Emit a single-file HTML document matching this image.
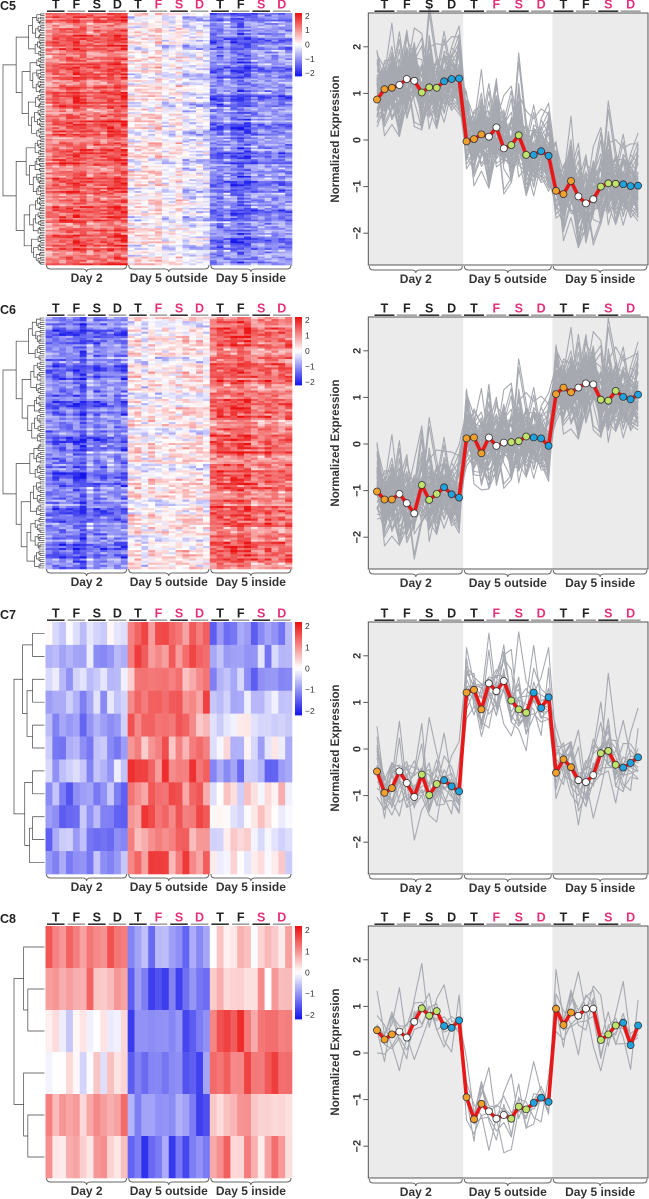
<!DOCTYPE html>
<html><head><meta charset="utf-8">
<style>
html,body{margin:0;padding:0;background:#fff;}
svg{display:block;font-family:"Liberation Sans",Arial,sans-serif;}
</style></head>
<body>
<svg id="fig" width="649" height="1199" viewBox="0 0 649 1199" xmlns="http://www.w3.org/2000/svg"></svg>
<script>
// ---- data ----
const clusterNames = ['C5','C6','C7','C8'];
const sectionLabels = ['Day 2','Day 5 outside','Day 5 inside'];
const headerLetters = ['T','F','S','D','T','F','S','D','T','F','S','D'];
const headerPink = [0,0,0,0,0,1,1,1,0,0,1,1];
const yTicks = [2,1,0,-1,-2];
const yTickLabels = ['2','1','0','\u22121','\u22122'];
const cbTicks = [2,1,0,-1,-2];
const cbTickLabels = ['2','1','0','\u22121','\u22122'];
const c5Means = [0.87,1.09,1.12,1.18,1.31,1.27,1.02,1.13,1.12,1.26,1.31,1.32,
  -0.03,0.02,0.12,0.07,0.27,-0.18,-0.11,0.1,-0.32,-0.32,-0.24,-0.34,
  -1.09,-1.16,-0.88,-1.21,-1.36,-1.27,-1.0,-0.93,-0.94,-0.95,-0.99,-0.98];
const c6Means = [-1.02,-1.19,-1.19,-1.07,-1.27,-1.49,-0.88,-1.2,-1.07,-0.93,-1.08,-1.15,
  0.12,0.14,-0.2,0.14,-0.04,0.03,0.04,0.06,0.16,0.14,0.12,-0.04,
  1.07,1.21,1.11,1.21,1.3,1.28,0.95,0.93,1.14,1.01,0.96,1.06];
const c7Means = [-0.48,-0.94,-0.84,-0.48,-0.73,-1.03,-0.55,-0.99,-0.75,-0.67,-0.8,-0.91,
  1.21,1.27,0.85,1.41,1.24,1.46,1.04,0.85,0.78,1.21,0.88,1.11,
  -0.51,-0.22,-0.39,-0.67,-0.71,-0.56,-0.09,-0.04,-0.34,-0.4,-0.3,-0.18];
const c8Means = [0.49,0.29,0.4,0.46,0.33,0.67,0.96,0.8,0.9,0.58,0.54,0.7,
  -0.95,-1.42,-1.09,-1.25,-1.41,-1.33,-1.41,-1.15,-1.21,-1.07,-0.96,-1.05,
  0.95,0.6,0.87,0.8,0.95,0.95,0.28,0.4,0.59,0.65,0.17,0.59];
// heatmap row levels per section (day2, outside, inside)
const c7RowDay2 = [-0.3,-0.8,-0.6,-0.7,-1.0,-1.0,-0.6,-1.1,-1.2,-1.0,-1.0];
const c7RowOut  = [1.3,1.2,1.1,1.3,1.0,1.0,1.4,1.2,1.3,1.2,1.3];
const c7RowIn   = [-1.2,-0.8,-1.0,-0.6,-0.2,-0.3,-1.0,0.1,0.0,-0.1,0.0];
const c8RowDay2 = [1.2,0.8,-0.1,0.1,0.8,0.5];
const c8RowOut  = [-1.0,-1.5,-1.2,-1.3,-1.3,-1.4];
const c8RowIn   = [0.3,0.5,1.3,1.3,0.6,0.8];
const cellTexture = [0.3,-0.5,0.1,0.6,-0.2,-0.4,0.45,0,-0.6,0.25,0.5,-0.15,-0.35,0.2,0.55,-0.55,0.05,0.35,-0.25,0.4,-0.45,0.15,-0.05,0.6,-0.3,0.1,-0.6,0.3,0.5];
const rowShift = [0.2,-0.3,0.1,0.35,-0.15,0.0,-0.4,0.25,0.05,-0.2,0.3,-0.05,0.15,-0.35,0.4,-0.1,0.1];
const geneOffsets = [
  [0.5,-0.2,0.8,-0.6,0.3,1.0,-0.4,0.1,-0.9,0.6,-0.1,0.4],
  [-0.7,0.3,-0.2,0.9,-0.5,0.2,0.7,-0.8,0.4,-0.3,0.6,-0.6],
  [0.2,0.9,-0.7,0.1,0.6,-0.9,0.3,0.5,-0.2,-0.6,1.1,0.0],
  [-0.4,-0.8,0.4,-0.1,1.2,0.3,-0.6,-0.3,0.8,0.2,-0.7,0.6],
  [0.9,0.1,-0.5,0.6,-0.8,-0.2,1.0,-0.6,0.2,0.7,-0.3,-0.9],
  [-0.1,0.6,0.3,-0.9,0.2,0.7,-0.2,0.9,-0.5,-0.8,0.4,0.3],
  [0.6,-0.6,-0.1,0.4,-0.3,-0.5,0.5,-0.1,1.1,-0.4,0.0,0.8],
  [-0.9,0.4,0.6,0.2,-0.1,0.5,-0.8,0.3,-0.4,0.9,-0.6,-0.2]];
const geneBias = [0.3,-0.4,0.1,-0.2,0.5,-0.5,0.0];
const dotColors = ['#f2a02c','#ffffff','#bfe36b','#1fa3df'];

const panelTops = [13,317,622,926];
const panelConf = [
  {means:c5Means, rows:150, cbH:63, lines:60, amp:0.85, levels:null},
  {means:c6Means, rows:120, cbH:68, lines:60, amp:0.85, levels:null},
  {means:c7Means, rows:11, cbH:93, lines:16, amp:0.8, levels:[c7RowDay2,c7RowOut,c7RowIn]},
  {means:c8Means, rows:6,  cbH:93, lines:7,  amp:0.7, levels:[c8RowDay2,c8RowOut,c8RowIn]}
];

const NS='http://www.w3.org/2000/svg';
const svg=document.getElementById('fig');
function mk(tag,attrs,parent){const e=document.createElementNS(NS,tag);for(const k in attrs)e.setAttribute(k,attrs[k]);(parent||svg).appendChild(e);return e;}

function heatColor(v){
  v=Math.max(-2.2,Math.min(2.2,v));const t=Math.abs(v)/2.2;
  let r,g,b;
  if(v>=0){r=255-t*20;g=255-t*240;b=255-t*240;}else{r=255-t*235;g=255-t*235;b=255-t*20;}
  return 'rgb('+Math.round(r)+','+Math.round(g)+','+Math.round(b)+')';
}

const PH=252, PX0=368.3, PX1=648, SB1=463.3, SB2=552.3;
const HX0=45.5, HX1=292, CW=(HX1-HX0)/36;
function px(i){return 377+7.46*i;}
function makeY(top){return v=>top+127-v*46.6;}

function bracket(g,x1,x2,y){
  const m=(x1+x2)/2;
  const p=mk('path',{d:`M${x1} ${y-4} Q${x1} ${y} ${x1+4} ${y} L${m-4} ${y} Q${m} ${y} ${m} ${y+3} Q${m} ${y} ${m+4} ${y} L${x2-4} ${y} Q${x2} ${y} ${x2} ${y-4}`,fill:'none',stroke:'#666','stroke-width':1},g);
  
  
}
function header(g,centers,top,barW){
  centers.forEach((cx,k)=>{
    const t=mk('text',{x:cx,y:top-4.5,'text-anchor':'middle','font-size':12.5,'font-weight':'bold',fill:headerPink[k]?'#e3327c':'#222'},g);
    t.textContent=headerLetters[k];
    
    
    const b=mk('rect',{x:cx-barW/2,y:top-2.6,width:barW,height:1.6,fill:(k%2===0)?'#333':'#a0a0a0'},g);
    
    
  });
}
function dendro(g,n,top,bottom,rootX,leafX){
  const rh=(bottom-top)/n;
  const skews=[0.5,0.35,0.6,0.45,0.3,0.55,0.4,0.65];
  let cnt=0;
  function build(lo,hi,depth){
    if(hi-lo<=1){return {y:top+(lo+0.5)*rh,x:leafX};}
    const s=skews[(cnt++)%skews.length];
    let mid=lo+Math.max(1,Math.min(hi-lo-1,Math.round((hi-lo)*s)));
    const a=build(lo,mid,depth+1), b=build(mid,hi,depth+1);
    const span=(hi-lo)/n;
    const x=leafX-(leafX-rootX)*Math.pow(span,0.55);
    const p=mk('path',{d:`M${a.x} ${a.y} H${x} V${b.y} H${b.x}`,fill:'none',stroke:'#444','stroke-width':0.7},g);
    
    
    return {y:(a.y+b.y)/2,x:x};
  }
  build(0,n,0);
}

panelConf.forEach((pc,pi)=>{
  const top=panelTops[pi], bot=top+PH;
  const y=makeY(top);
  const g=mk('g',{});
  
  

  const tt=mk('text',{x:0,y:top-3,'font-size':12.5,'font-weight':'bold',fill:'#222'},g);
  tt.textContent=clusterNames[pi];
  
  

  // ---- heatmap ----
  const hm=mk('g',{},g);
  
  
  const rh=PH/pc.rows;
  for(let r=0;r<pc.rows;r++){
    for(let c=0;c<36;c++){
      const sec=Math.floor(c/12);
      let base;
      if(pc.levels){base=pc.levels[sec][r];}
      else{base=pc.means[c]*1.15+rowShift[(r*5+sec*3)%rowShift.length]*1.1;}
      const tex=cellTexture[(r*7+c+((r*c)%5))%cellTexture.length]*0.6+rowShift[(c*3+r*2)%rowShift.length]*0.7;
      const v=base+tex*(pc.levels?1.1:1.0);
      const cell=mk('rect',{x:(HX0+c*CW).toFixed(2),y:(top+r*rh).toFixed(2),width:(CW+0.3).toFixed(2),height:(rh+0.3).toFixed(2),fill:heatColor(v)},hm);
      
      
    }
  }
  const dg=mk('g',{},g);
  
  
  dendro(dg,pc.rows,top,bot,pi<2?3:14,HX0-1);

  const hcent=[];for(let k=0;k<12;k++)hcent.push(HX0+CW*(1.5+3*k));
  header(g,hcent,top,CW*3-3);
  for(let s=0;s<3;s++){
    const x1=HX0+s*12*CW+1,x2=HX0+(s+1)*12*CW-1;
    bracket(g,x1,x2,bot+4);
    const lb=mk('text',{x:(x1+x2)/2,y:bot+17,'text-anchor':'middle','font-size':12,'font-weight':'bold',fill:'#333'},g);
    lb.textContent=sectionLabels[s];
    
    
  }

  // colorbar
  const cb=mk('g',{},g);
  
  
  const steps=40;
  for(let i=0;i<steps;i++){
    const v=2.2-4.4*(i+0.5)/steps;
    const r=mk('rect',{x:295,y:top+i*pc.cbH/steps,width:7,height:pc.cbH/steps+0.4,fill:heatColor(v)},cb);
    
    
  }
  cbTicks.forEach((t,k)=>{
    const ty=top+pc.cbH*(2.2-t)/4.4;
    const l=mk('text',{x:305,y:ty+3,'font-size':8.5,fill:'#333'},cb);
    l.textContent=cbTickLabels[k];
    
    
  });

  // ---- line plot ----
  const lp=mk('g',{},g);
  
  
  const bg1=mk('rect',{x:PX0,y:top,width:SB1-PX0,height:PH,fill:'#ebebeb'},lp);
  
  const bg2=mk('rect',{x:SB1,y:top,width:SB2-SB1,height:PH,fill:'#ffffff'},lp);
  
  const bg3=mk('rect',{x:SB2,y:top,width:PX1-SB2,height:PH,fill:'#ebebeb'},lp);
  

  for(let j=0;j<pc.lines;j++){
    const off=geneOffsets[j%8], off2=geneOffsets[(j*3+1)%8], sc=0.5+0.12*(j%6);
    let d='';
    for(let i=0;i<36;i++){
      const v=pc.means[i]+pc.amp*sc*(0.7*off[(i+3*j)%12]+0.5*off2[(i*5+j)%12]+geneBias[j%7]);
      d+=(i?'L':'M')+px(i).toFixed(1)+' '+y(v).toFixed(1);
    }
    const pl=mk('path',{d:d,fill:'none',stroke:'#a6a9b0','stroke-width':1.1,'stroke-linejoin':'round'},lp);
    
    
  }
  let md='';
  pc.means.forEach((v,i)=>{md+=(i?'L':'M')+px(i).toFixed(1)+' '+y(v).toFixed(1);});
  const ml=mk('path',{d:md,fill:'none',stroke:'#e81818','stroke-width':3.6,'stroke-linejoin':'round'},lp);
  
  
  pc.means.forEach((v,i)=>{
    const c=mk('circle',{cx:px(i).toFixed(1),cy:y(v).toFixed(1),r:3.5,fill:dotColors[Math.floor((i%12)/3)],stroke:'#333','stroke-width':0.8},lp);
    
    
  });
  const box=mk('rect',{x:PX0,y:top,width:PX1-PX0,height:PH,fill:'none',stroke:'#555','stroke-width':1},lp);
  

  yTicks.forEach((t,k)=>{
    const ty=y(t);
    const tk=mk('line',{x1:PX0-5,x2:PX0,y1:ty,y2:ty,stroke:'#555','stroke-width':1},lp);
    
    const tl=mk('text',{x:0,y:0,transform:`translate(${PX0-8},${ty}) rotate(-90)`,'text-anchor':'middle','font-size':11,'font-weight':'bold',fill:'#333'},lp);
    tl.textContent=yTickLabels[k];
    
  });
  const yt=mk('text',{x:0,y:0,transform:`translate(339,${top+PH/2}) rotate(-90)`,'text-anchor':'middle','font-size':11.5,'font-weight':'bold',fill:'#333'},lp);
  yt.textContent='Normalized Expression';
  

  const pcent=[];for(let k=0;k<12;k++)pcent.push(px(1+3*k));
  header(g,pcent,top,20);
  const secs=[[PX0,SB1],[SB1,SB2],[SB2,PX1]];
  secs.forEach((s,k)=>{
    bracket(g,s[0]+1,s[1]-1,bot+5);
    const lb=mk('text',{x:(s[0]+s[1])/2,y:bot+18,'text-anchor':'middle','font-size':12,'font-weight':'bold',fill:'#333'},g);
    lb.textContent=sectionLabels[k];
    
    
  });
});
</script>
</body></html>
